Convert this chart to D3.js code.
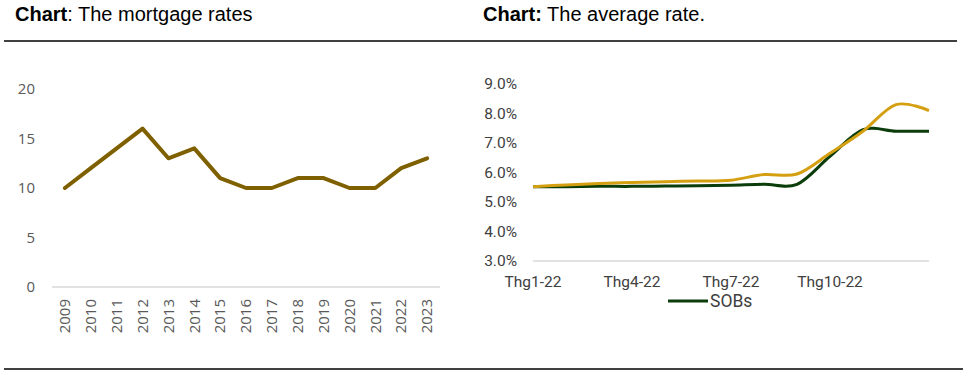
<!DOCTYPE html>
<html>
<head>
<meta charset="utf-8">
<script src="https://cdn.jsdelivr.net/npm/d3@7"></script>
<style>
  body { margin: 0; background: #fff; }
  svg { display: block; }
</style>
</head>
<body>
<svg id="chart"></svg>
<script>
// left chart data
var years = ["2009","2010","2011","2012","2013","2014","2015","2016","2017","2018","2019","2020","2021","2022","2023"];
var mortgageRates = [10, 12, 14, 16, 13, 14, 11, 10, 10, 11, 11, 10, 10, 12, 13];
var leftTicks = [0, 5, 10, 15, 20];

// right chart data
var months = ["Thg1-22","Thg2-22","Thg3-22","Thg4-22","Thg5-22","Thg6-22","Thg7-22","Thg8-22","Thg9-22","Thg10-22","Thg11-22","Thg12-22","Thg1-23"];
var sobRates = [5.52, 5.52, 5.53, 5.53, 5.54, 5.55, 5.57, 5.6, 5.6, 6.55, 7.45, 7.4, 7.4];
var otherRates = [5.52, 5.58, 5.63, 5.66, 5.69, 5.71, 5.74, 5.93, 5.95, 6.65, 7.4, 8.3, 8.1];
var rightTicks = [3, 4, 5, 6, 7, 8, 9];
var shownMonths = ["Thg1-22","Thg4-22","Thg7-22","Thg10-22"];

var width = 963, height = 374;
var svg = d3.select("#chart").attr("width", width).attr("height", height);

// titles + rules
var t1 = svg.append("text").attr("x", 15).attr("y", 21)
    .attr("font-family", "Liberation Sans, Arial, sans-serif").attr("font-size", 20).attr("fill", "#000");
t1.append("tspan").attr("font-weight", "bold").text("Chart");
t1.append("tspan").text(": The mortgage rates");

var t2 = svg.append("text").attr("x", 483).attr("y", 21)
    .attr("font-family", "Liberation Sans, Arial, sans-serif").attr("font-size", 20).attr("fill", "#000");
t2.append("tspan").attr("font-weight", "bold").text("Chart:");
t2.append("tspan").text(" The average rate.");

svg.append("line").attr("x1", 4).attr("x2", 957).attr("y1", 41).attr("y2", 41)
    .attr("stroke", "#000").attr("stroke-width", 1.3);
svg.append("line").attr("x1", 4).attr("x2", 963).attr("y1", 369).attr("y2", 369)
    .attr("stroke", "#000").attr("stroke-width", 1.3);

// ---- left chart
var xL = d3.scaleBand().domain(years).range([52, 440]);
var yL = d3.scaleLinear().domain([0, 20]).range([287, 89]);

var gL = svg.append("g");
gL.append("line").attr("x1", 52).attr("x2", 440).attr("y1", yL(0)).attr("y2", yL(0))
    .attr("stroke", "#d9d9d9").attr("stroke-width", 1.5);

gL.selectAll(".ylab")
    .data(leftTicks)
    .enter()
    .append("text")
    .attr("x", 35)
    .attr("y", function(d) { return yL(d); })
    .attr("dy", "0.35em")
    .attr("text-anchor", "end")
    .attr("font-family", "Open Sans, sans-serif")
    .attr("font-size", 15)
    .attr("fill", "#595959")
    .text(function(d) { return d; });

gL.selectAll(".xlab")
    .data(years)
    .enter()
    .append("text")
    .attr("transform", function(d) {
        return "translate(" + (xL(d) + xL.bandwidth() / 2) + ",299) rotate(-90)";
    })
    .attr("dy", "0.35em")
    .attr("text-anchor", "end")
    .attr("font-family", "Open Sans, sans-serif")
    .attr("font-size", 15)
    .attr("fill", "#595959")
    .text(function(d) { return d; });

var lineL = d3.line()
    .x(function(d, i) { return xL(years[i]) + xL.bandwidth() / 2; })
    .y(function(d) { return yL(d); });

gL.append("path")
    .datum(mortgageRates)
    .attr("d", lineL)
    .attr("fill", "none")
    .attr("stroke", "#7f6000")
    .attr("stroke-width", 4)
    .attr("stroke-linejoin", "round")
    .attr("stroke-linecap", "round");

// ---- right chart
var xR = d3.scalePoint().domain(months).range([533, 929]);
var yR = d3.scaleLinear().domain([3, 9]).range([261, 84]);

var gR = svg.append("g");
gR.append("line").attr("x1", 533).attr("x2", 929).attr("y1", yR(3)).attr("y2", yR(3))
    .attr("stroke", "#d9d9d9").attr("stroke-width", 1.5);

gR.selectAll(".ylab")
    .data(rightTicks)
    .enter()
    .append("text")
    .attr("x", 517)
    .attr("y", function(d) { return yR(d); })
    .attr("dy", "0.35em")
    .attr("text-anchor", "end")
    .attr("font-family", "Roboto, sans-serif")
    .attr("font-size", 15.5)
    .attr("fill", "#404040")
    .text(function(d) { return d.toFixed(1) + "%"; });

gR.selectAll(".xlab")
    .data(shownMonths)
    .enter()
    .append("text")
    .attr("x", function(d) { return xR(d); })
    .attr("y", 287)
    .attr("text-anchor", "middle")
    .attr("font-family", "Roboto, sans-serif")
    .attr("font-size", 15.5)
    .attr("fill", "#404040")
    .text(function(d) { return d; });

var lineR = d3.line()
    .x(function(d, i) { return xR(months[i]); })
    .y(function(d) { return yR(d); })
    .curve(d3.curveCardinal.tension(0));

gR.append("path")
    .datum(sobRates)
    .attr("d", lineR)
    .attr("fill", "none")
    .attr("stroke", "#0b3d0b")
    .attr("stroke-width", 3);

gR.append("path")
    .datum(otherRates)
    .attr("d", lineR)
    .attr("fill", "none")
    .attr("stroke", "#d4a012")
    .attr("stroke-width", 3);

// legend
gR.append("line").attr("x1", 668).attr("x2", 708).attr("y1", 301).attr("y2", 301)
    .attr("stroke", "#0b3d0b").attr("stroke-width", 3);
gR.append("text").attr("x", 710).attr("y", 307)
    .attr("font-family", "Roboto, sans-serif").attr("font-size", 17.5)
    .attr("fill", "#404040").text("SOBs");
</script>
</body>
</html>
